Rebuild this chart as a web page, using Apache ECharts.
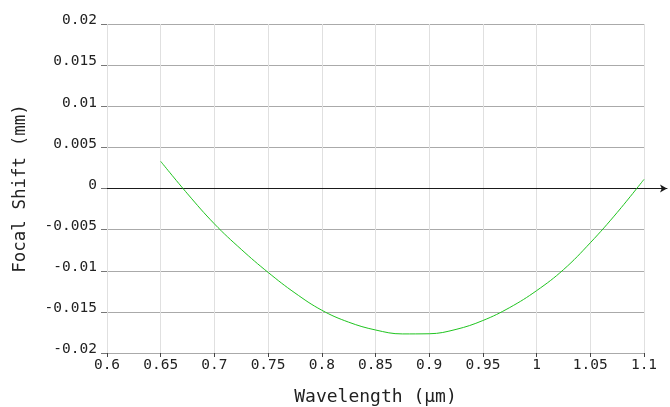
<!DOCTYPE html>
<html>
<head>
<meta charset="utf-8">
<script src="https://cdn.jsdelivr.net/npm/echarts@6/dist/echarts.min.js"></script>
<style>
html,body{margin:0;padding:0;background:#fff;}
#chart{width:670px;height:407px;}
</style>
</head>
<body>
<div id="chart"></div>
<script>
// Wavelength (µm)
const wavelengths = [0.65, 0.675, 0.70, 0.725, 0.75, 0.775, 0.80, 0.825, 0.85, 0.875,
                     0.90, 0.925, 0.95, 0.975, 1.00, 1.025, 1.05, 1.075, 1.10];
// Focal shift (mm)
const focalShift = [0.0033, -0.00065, -0.0043, -0.0074, -0.0102, -0.0127, -0.0148, -0.01625,
                    -0.0172, -0.01768, -0.01766, -0.01713, -0.01605, -0.01447, -0.01242,
                    -0.00987, -0.0066, -0.00292, 0.00111];
const xTickLabels = ['0.6','0.65','0.7','0.75','0.8','0.85','0.9','0.95','1','1.05','1.1'];
const yTickLabels = ['-0.02','-0.015','-0.01','-0.005','0','0.005','0.01','0.015','0.02'];

const chart = echarts.init(document.getElementById('chart'), null, {renderer:'canvas'});
const font = 'DejaVu Sans Mono';
const seriesData = wavelengths.map((w, i) => [w, focalShift[i]]);

chart.setOption({
  animation: false,
  backgroundColor: '#fff',
  grid: [
    {left: 107, right: 26, top: 24, bottom: 54, containLabel: false, outerBoundsMode: 'none'},
    {left: 107, right: 3, top: 24, bottom: 54, containLabel: false, outerBoundsMode: 'none'}
  ],
  xAxis: [
    {
      type: 'value', gridIndex: 0, min: 0.6, max: 1.1, interval: 0.05,
      name: 'Wavelength (\u03bcm)', nameLocation: 'middle', nameGap: 35,
      nameTextStyle: {fontFamily: font, fontSize: 18, color: '#222'},
      axisLine: {show: true, onZero: false, lineStyle: {color: '#aaa', width: 1}},
      axisTick: {show: true, length: 4, lineStyle: {color: '#444'}},
      axisLabel: {fontFamily: font, fontSize: 14.5, color: '#222', margin: 5,
        formatter: (v) => { const i = Math.round((v - 0.6) / 0.05); return xTickLabels[i] || ''; }},
      splitLine: {show: true, lineStyle: {color: '#e0e0e0', width: 1}}
    },
    {
      type: 'value', gridIndex: 1, min: 0, max: 1,
      axisLine: {show: true, onZero: true, symbol: ['none', 'arrow'], symbolSize: [6, 7],
        lineStyle: {color: '#1a1a1a', width: 1}},
      axisTick: {show: false}, axisLabel: {show: false}, splitLine: {show: false}
    }
  ],
  yAxis: [
    {
      type: 'value', gridIndex: 0, min: -0.02, max: 0.02, interval: 0.005,
      name: 'Focal Shift (mm)', nameLocation: 'middle', nameGap: 78, nameRotate: 90,
      nameTextStyle: {fontFamily: font, fontSize: 17.5, color: '#222'},
      axisLine: {show: false},
      axisTick: {show: true, length: 6, lineStyle: {color: '#777'}},
      axisLabel: {fontFamily: font, fontSize: 14.5, color: '#222', margin: 10,
        verticalAlign: 'bottom', lineHeight: 7,
        formatter: (v) => { const i = Math.round((v + 0.02) / 0.005); return yTickLabels[i] || ''; }},
      splitLine: {show: true, lineStyle: {color: '#aaaaaa', width: 1}}
    },
    {
      type: 'value', gridIndex: 1, min: -0.02, max: 0.02, show: true,
      axisLine: {show: false}, axisTick: {show: false}, axisLabel: {show: false}, splitLine: {show: false}
    }
  ],
  series: [
    {
      type: 'line', xAxisIndex: 0, yAxisIndex: 0, data: seriesData,
      smooth: 0.4, showSymbol: false, symbol: 'none',
      lineStyle: {color: '#1fc41f', width: 1}, z: 5
    }
  ]
});
</script>
</body>
</html>
